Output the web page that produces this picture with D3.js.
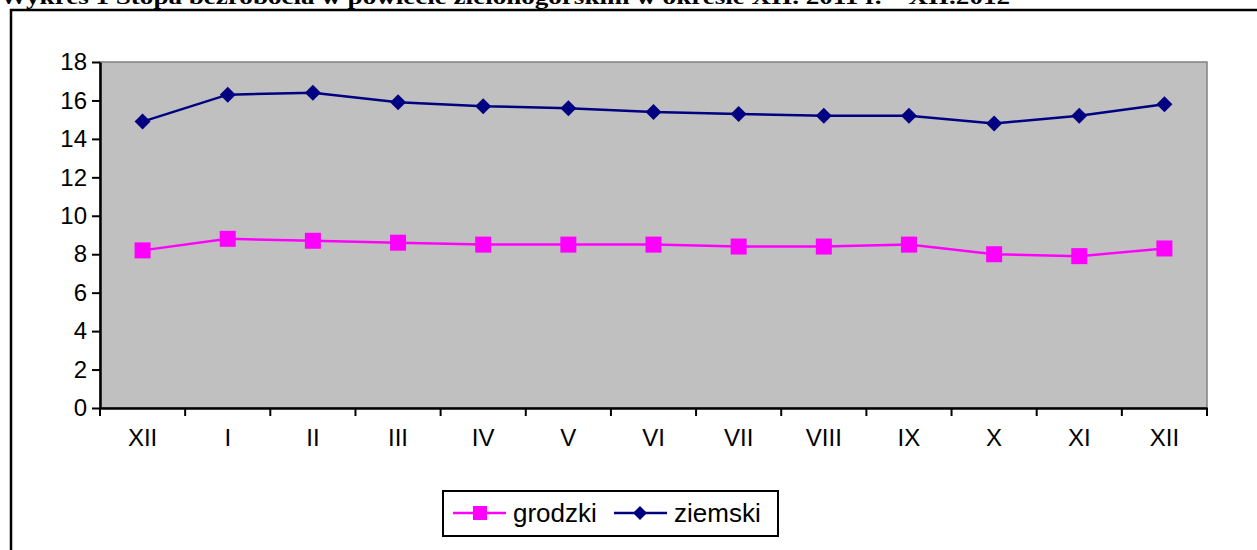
<!DOCTYPE html>
<html>
<head>
<meta charset="utf-8">
<script src="https://cdn.jsdelivr.net/npm/d3@7"></script>
<style>
  body { margin: 0; background: #fff; overflow: hidden; }
  svg { display: block; }
</style>
</head>
<body>
<div id="chart"></div>
<script>
var months = ["XII", "I", "II", "III", "IV", "V", "VI", "VII", "VIII", "IX", "X", "XI", "XII"];
var grodzki = [8.2, 8.8, 8.7, 8.6, 8.5, 8.5, 8.5, 8.4, 8.4, 8.5, 8.0, 7.9, 8.3];
var ziemski = [14.9, 16.3, 16.4, 15.9, 15.7, 15.6, 15.4, 15.3, 15.2, 15.2, 14.8, 15.2, 15.8];
var yTicks = [0, 2, 4, 6, 8, 10, 12, 14, 16, 18];
var title = "Wykres 1 Stopa bezrobocia w powiecie zielonogórskim w okresie XII. 2011 r. – XII.2012";

var width = 1257, height = 550;
var svg = d3.select("#chart").append("svg")
    .attr("width", width)
    .attr("height", height);

// title, cut off at the top like the scan
svg.append("text")
    .attr("x", 0)
    .attr("y", 4)
    .attr("textLength", 1010)
    .attr("lengthAdjust", "spacingAndGlyphs")
    .text(title)
    .style("font-family", "'Liberation Serif', 'Times New Roman', serif")
    .style("font-size", "20px")
    .style("font-weight", "bold")
    .style("fill", "#000");

// outer frame
svg.append("rect")
    .attr("x", 11).attr("y", 10)
    .attr("width", 1300).attr("height", 600)
    .style("fill", "none")
    .style("stroke", "#000")
    .style("stroke-width", 2.5);

var pLeft = 100, pRight = 1207, pTop = 62, pBottom = 408;

var x = d3.scaleBand().domain(d3.range(months.length)).range([pLeft, pRight]).padding(0);
var y = d3.scaleLinear().domain([0, 18]).range([pBottom, pTop]);

// plot area
svg.append("rect")
    .attr("x", pLeft).attr("y", pTop)
    .attr("width", pRight - pLeft).attr("height", pBottom - pTop)
    .style("fill", "#C0C0C0")
    .style("stroke", "#808080")
    .style("stroke-width", 1.5);

var font = "'Liberation Sans', Arial, sans-serif";

// y axis
var yAxis = svg.append("g")
    .attr("transform", "translate(" + pLeft + ",0)")
    .call(d3.axisLeft(y).tickValues(yTicks).tickSize(8).tickPadding(5).tickSizeOuter(0));
yAxis.select(".domain").style("stroke", "#000").style("stroke-width", 2.5);
yAxis.selectAll(".tick line").style("stroke", "#000").style("stroke-width", 2);
yAxis.selectAll("text")
    .style("font-family", font)
    .style("font-size", "24px")
    .style("fill", "#000");

// x axis
var xAxis = svg.append("g")
    .attr("transform", "translate(0," + pBottom + ")")
    .call(d3.axisBottom(x).tickFormat(function(d) { return months[d]; }).tickSize(0).tickPadding(21));
xAxis.select(".domain").style("stroke", "#000").style("stroke-width", 2.5);
xAxis.selectAll("text")
    .style("font-family", font)
    .style("font-size", "24px")
    .style("fill", "#000");

// category boundary ticks
var bounds = d3.range(months.length + 1);
svg.selectAll("line.xtick").data(bounds).enter().append("line")
    .attr("class", "xtick")
    .attr("x1", function(d) { return pLeft + d * x.bandwidth(); })
    .attr("x2", function(d) { return pLeft + d * x.bandwidth(); })
    .attr("y1", pBottom)
    .attr("y2", pBottom + 8)
    .style("stroke", "#000")
    .style("stroke-width", 2);

var cx = function(d, i) { return x(i) + x.bandwidth() / 2; };
var line = d3.line().x(cx).y(function(d) { return y(d); });

// ziemski
svg.append("path")
    .datum(ziemski)
    .attr("d", line)
    .style("fill", "none")
    .style("stroke", "#000080")
    .style("stroke-width", 2.5);
svg.selectAll("path.diamond").data(ziemski).enter().append("path")
    .attr("class", "diamond")
    .attr("d", "M0,-8L8,0L0,8L-8,0Z")
    .attr("transform", function(d, i) { return "translate(" + cx(d, i) + "," + y(d) + ")"; })
    .style("fill", "#000080");

// grodzki
svg.append("path")
    .datum(grodzki)
    .attr("d", line)
    .style("fill", "none")
    .style("stroke", "#FF00FF")
    .style("stroke-width", 2.5);
svg.selectAll("rect.square").data(grodzki).enter().append("rect")
    .attr("class", "square")
    .attr("x", function(d, i) { return cx(d, i) - 8; })
    .attr("y", function(d) { return y(d) - 8; })
    .attr("width", 16).attr("height", 16)
    .style("fill", "#FF00FF");

// legend
var legend = svg.append("g");
legend.append("rect")
    .attr("x", 443).attr("y", 491)
    .attr("width", 335).attr("height", 45)
    .style("fill", "#fff")
    .style("stroke", "#000")
    .style("stroke-width", 2);

var legY = 513;
legend.append("line")
    .attr("x1", 453).attr("x2", 506).attr("y1", legY).attr("y2", legY)
    .style("stroke", "#FF00FF").style("stroke-width", 2.5);
legend.append("rect")
    .attr("x", 473).attr("y", legY - 7).attr("width", 14).attr("height", 14)
    .style("fill", "#FF00FF");
legend.append("text")
    .attr("x", 513).attr("y", legY + 9)
    .text("grodzki")
    .style("font-family", font).style("font-size", "26px").style("fill", "#000");

legend.append("line")
    .attr("x1", 614).attr("x2", 667).attr("y1", legY).attr("y2", legY)
    .style("stroke", "#000080").style("stroke-width", 2.5);
legend.append("path")
    .attr("d", "M0,-7L7,0L0,7L-7,0Z")
    .attr("transform", "translate(640," + legY + ")")
    .style("fill", "#000080");
legend.append("text")
    .attr("x", 674).attr("y", legY + 9)
    .text("ziemski")
    .style("font-family", font).style("font-size", "26px").style("fill", "#000");
</script>
</body>
</html>
